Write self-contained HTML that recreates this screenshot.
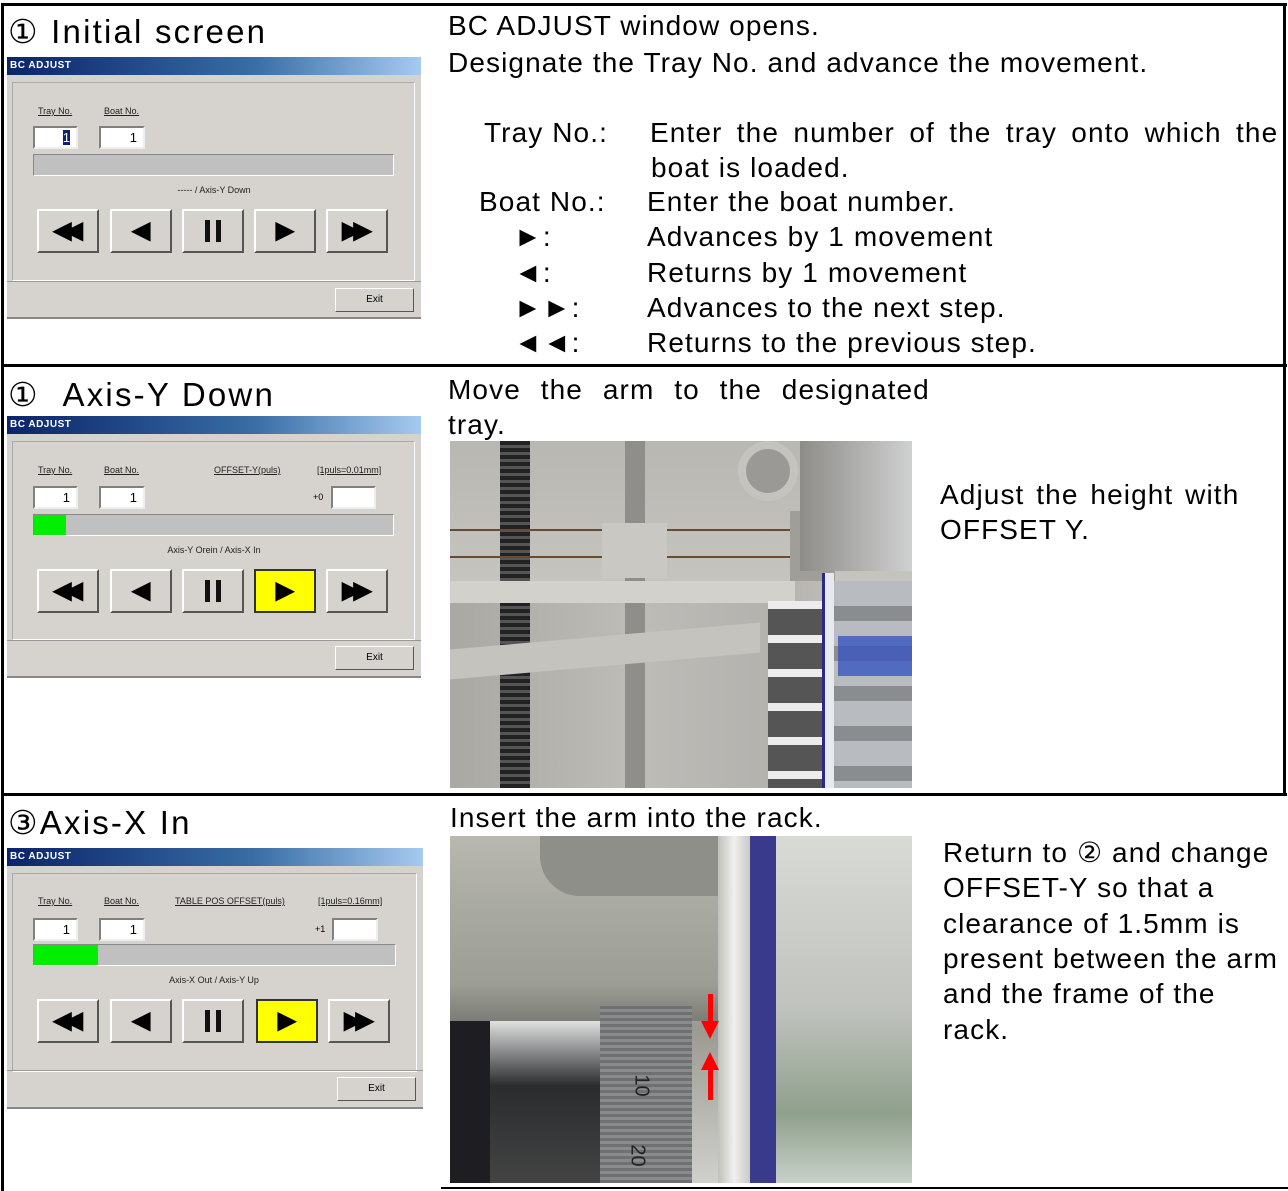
<!DOCTYPE html>
<html><head><meta charset="utf-8"><style>
*{margin:0;padding:0;box-sizing:border-box}
body{width:1288px;height:1191px;background:#fff;position:relative;overflow:hidden;font-family:"Liberation Sans",Arial,sans-serif;color:#000}
.a{position:absolute}
.t{position:absolute;font-size:28px;letter-spacing:1.1px;white-space:nowrap;line-height:1}
.h{position:absolute;font-size:33px;letter-spacing:2.2px;white-space:nowrap;line-height:1}
.win{position:absolute;background:#d6d3ce;width:414px;height:262px;border-bottom:2px solid #888}
.tb{position:absolute;left:0;top:0;right:0;height:18px;background:linear-gradient(90deg,#0a246a,#3a6ea5 60%,#a6caf0);color:#fff;font-size:10px;font-weight:bold;padding:3px 0 0 3px;letter-spacing:.5px}
.pn{position:absolute;left:5px;top:25px;width:403px;height:199px;border:1px solid #fff;border-top-color:#aaa;border-left-color:#aaa}
.lb{position:absolute;font-size:9px;text-decoration:underline;color:#222}
.bx{position:absolute;height:23px;background:#fff;border:2px solid #808080;border-right-color:#eee;border-bottom-color:#eee;font-size:13px;text-align:right;padding-right:6px;line-height:19px}
.pb{position:absolute;left:26px;width:361px;height:22px;background:#c0c0c0;border:1px solid #888;border-right-color:#fff;border-bottom-color:#fff}
.st{position:absolute;left:0;width:414px;text-align:center;font-size:9px;color:#222}
.bt{position:absolute;width:62px;height:44px;background:#d6d3ce;border:2px solid #fff;border-right-color:#555;border-bottom-color:#555;font-size:24px;text-align:center;line-height:40px;font-weight:bold;letter-spacing:-7px;padding-right:7px}
.bt.s{letter-spacing:0;padding:0}
.ex{position:absolute;left:328px;width:79px;height:24px;background:#d6d3ce;border:1px solid #fff;border-right-color:#555;border-bottom-color:#555;font-size:10px;text-align:center;line-height:22px}
.pz{display:inline-block;width:5px;height:22px;background:#111;margin:9px 3px 0}
</style></head><body>
<div class="a" style="left:1px;top:3px;width:1286px;height:3px;background:#000"></div>
<div class="a" style="left:1px;top:3px;width:3px;height:1188px;background:#000"></div>
<div class="a" style="left:1283px;top:3px;width:3px;height:792px;background:#000"></div>
<div class="a" style="left:1px;top:364px;width:1286px;height:3px;background:#000"></div>
<div class="a" style="left:1px;top:793px;width:1286px;height:3px;background:#000"></div>
<div class="a" style="left:441px;top:1187px;width:847px;height:2px;background:#000"></div>

<div class="h" style="left:8px;top:15px">① Initial screen</div>
<div class="win" style="left:7px;top:57px">
 <div class="tb">BC ADJUST</div><div class="pn"></div>
 <div class="lb" style="left:31px;top:49px">Tray No.</div><div class="lb" style="left:97px;top:49px">Boat No.</div>
 <div class="bx" style="left:26px;top:69px;width:45px"><span style="background:#0a246a;color:#fff">1</span></div>
 <div class="bx" style="left:92px;top:69px;width:46px">1</div>
 <div class="pb" style="top:97px"></div>
 <div class="st" style="top:128px">----- / Axis-Y Down</div>
 <div class="bt" style="left:30px;top:152px">◀◀</div><div class="bt s" style="left:103px;top:152px">◀</div>
 <div class="bt s" style="left:175px;top:152px"><span class="pz"></span><span class="pz"></span></div><div class="bt s" style="left:247px;top:152px">▶</div>
 <div class="bt" style="left:319px;top:152px">▶▶</div>
 <div class="a" style="left:0;top:224px;width:414px;height:1px;background:#999"></div>
 <div class="ex" style="top:231px">Exit</div>
</div>
<div class="t" style="left:448px;top:12px">BC ADJUST window opens.</div>
<div class="t" style="left:448px;top:49px">Designate the Tray No. and advance the movement.</div>
<div class="t" style="left:484px;top:119px">Tray No.:</div>
<div class="t" style="left:650px;top:119px;word-spacing:5.5px">Enter the number of the tray onto which the</div>
<div class="t" style="left:651px;top:154px">boat is loaded.</div>
<div class="t" style="left:479px;top:188px">Boat No.:</div>
<div class="t" style="left:647px;top:188px">Enter the boat number.</div>
<div class="t" style="left:514px;top:223px">►:</div><div class="t" style="left:647px;top:223px">Advances by 1 movement</div>
<div class="t" style="left:514px;top:259px">◄:</div><div class="t" style="left:647px;top:259px">Returns by 1 movement</div>
<div class="t" style="left:514px;top:294px">►►:</div><div class="t" style="left:647px;top:294px">Advances to the next step.</div>
<div class="t" style="left:514px;top:329px">◄◄:</div><div class="t" style="left:647px;top:329px">Returns to the previous step.</div>

<div class="h" style="left:8px;top:378px">①&nbsp;&nbsp;Axis-Y Down</div>
<div class="win" style="left:7px;top:416px">
 <div class="tb">BC ADJUST</div><div class="pn"></div>
 <div class="lb" style="left:31px;top:49px">Tray No.</div><div class="lb" style="left:97px;top:49px">Boat No.</div>
 <div class="lb" style="left:207px;top:49px">OFFSET-Y(puls)</div><div class="lb" style="left:310px;top:49px">[1puls=0.01mm]</div>
 <div class="bx" style="left:26px;top:70px;width:45px">1</div>
 <div class="bx" style="left:92px;top:70px;width:46px">1</div>
 <div class="a" style="left:306px;top:76px;font-size:9px">+0</div>
 <div class="bx" style="left:324px;top:70px;width:45px"></div>
 <div class="pb" style="top:98px"><div style="width:32px;height:20px;background:#00ee00"></div></div>
 <div class="st" style="top:129px">Axis-Y Orein / Axis-X In</div>
 <div class="bt" style="left:30px;top:153px">◀◀</div><div class="bt s" style="left:103px;top:153px">◀</div>
 <div class="bt s" style="left:175px;top:153px"><span class="pz"></span><span class="pz"></span></div><div class="bt s" style="left:247px;top:153px;background:#ffff00;border:2px solid #333">▶</div>
 <div class="bt" style="left:319px;top:153px">▶▶</div>
 <div class="a" style="left:0;top:224px;width:414px;height:1px;background:#999"></div>
 <div class="ex" style="top:230px">Exit</div>
</div>
<div class="t" style="left:448px;top:376px;word-spacing:11px">Move the arm to the designated</div>
<div class="t" style="left:448px;top:411px">tray.</div>
<div class="a" style="left:450px;top:441px;width:462px;height:347px;overflow:hidden;background:linear-gradient(90deg,#a9a8a3,#bdbcb7 40%,#b3b2ad 70%,#c8c8c4)">
 <div class="a" style="left:0;top:0;width:462px;height:140px;background:linear-gradient(180deg,#b8b7b2,#c5c4bf)"></div>
 <div class="a" style="left:50px;top:0;width:30px;height:347px;background:repeating-linear-gradient(180deg,#222 0 4px,#555 4px 7px)"></div>
 <div class="a" style="left:175px;top:0;width:20px;height:347px;background:#8f8e8a"></div>
 <div class="a" style="left:288px;top:0;width:60px;height:60px;border-radius:50%;background:#9a9995;border:8px solid #c4c3be"></div>
 <div class="a" style="left:0;top:88px;width:370px;height:2px;background:#6a4a30"></div>
 <div class="a" style="left:0;top:115px;width:370px;height:2px;background:#6a4a30"></div>
 <div class="a" style="left:152px;top:82px;width:65px;height:55px;background:#c9c8c3"></div>
 <div class="a" style="left:340px;top:70px;width:45px;height:70px;background:#9f9e99"></div>
 <div class="a" style="left:0;top:140px;width:345px;height:22px;background:#d2d1cc"></div>
 <div class="a" style="left:0;top:195px;width:310px;height:30px;background:#c4c3be;transform:skewY(-5deg)"></div>
 <div class="a" style="left:350px;top:0;width:112px;height:130px;background:linear-gradient(90deg,#8d8c88,#cfd0d0)"></div>
 <div class="a" style="left:318px;top:160px;width:62px;height:187px;background:repeating-linear-gradient(180deg,#ececec 0 8px,#555 8px 34px)"></div>
 <div class="a" style="left:372px;top:132px;width:12px;height:215px;background:#e8e8ef;border-left:3px solid #2a2a80"></div>
 <div class="a" style="left:384px;top:140px;width:78px;height:207px;background:repeating-linear-gradient(180deg,#b8bcc0 0 25px,#8a8d90 25px 40px)"></div>
 <div class="a" style="left:388px;top:195px;width:74px;height:40px;background:#3a55c0;opacity:.8"></div>
</div>
<div class="t" style="left:940px;top:481px;word-spacing:3px">Adjust the height with</div>
<div class="t" style="left:940px;top:516px">OFFSET Y.</div>

<div class="h" style="left:8px;top:806px">③Axis-X In</div>
<div class="win" style="left:7px;top:848px;width:416px;height:261px">
 <div class="tb">BC ADJUST</div><div class="pn" style="width:405px"></div>
 <div class="lb" style="left:31px;top:48px">Tray No.</div><div class="lb" style="left:97px;top:48px">Boat No.</div>
 <div class="lb" style="left:168px;top:48px">TABLE POS OFFSET(puls)</div><div class="lb" style="left:311px;top:48px">[1puls=0.16mm]</div>
 <div class="bx" style="left:26px;top:70px;width:45px">1</div>
 <div class="bx" style="left:92px;top:70px;width:46px">1</div>
 <div class="a" style="left:308px;top:76px;font-size:9px">+1</div>
 <div class="bx" style="left:325px;top:70px;width:46px"></div>
 <div class="pb" style="top:96px;width:363px"><div style="width:64px;height:20px;background:#00ee00"></div></div>
 <div class="st" style="top:127px">Axis-X Out / Axis-Y Up</div>
 <div class="bt" style="left:30px;top:151px">◀◀</div><div class="bt s" style="left:103px;top:151px">◀</div>
 <div class="bt s" style="left:175px;top:151px"><span class="pz"></span><span class="pz"></span></div><div class="bt s" style="left:249px;top:151px;background:#ffff00;border:2px solid #333">▶</div>
 <div class="bt" style="left:321px;top:151px">▶▶</div>
 <div class="a" style="left:0;top:222px;width:416px;height:1px;background:#999"></div>
 <div class="ex" style="left:330px;top:229px">Exit</div>
</div>
<div class="t" style="left:450px;top:804px">Insert the arm into the rack.</div>
<div class="a" style="left:450px;top:836px;width:462px;height:347px;overflow:hidden;background:linear-gradient(180deg,#b4b4ac,#c4c4bc 40%,#9a9a92 55%,#d0d0cc)">
 <div class="a" style="left:0;top:0;width:270px;height:185px;background:linear-gradient(180deg,#b8b8b0,#a8a9a0 40%,#9c9d95 80%,#7c7d76)"></div>
 <div class="a" style="left:90px;top:0;width:180px;height:60px;border-radius:0 0 0 40px;background:#8e8f88"></div>
 <div class="a" style="left:0;top:185px;width:40px;height:162px;background:#1e1e22"></div>
 <div class="a" style="left:40px;top:185px;width:110px;height:162px;background:linear-gradient(180deg,#e0e0e0,#2a2c2e 40%,#444)"></div>
 <div class="a" style="left:150px;top:170px;width:92px;height:177px;background:repeating-linear-gradient(180deg,#6f7072 0 3px,#8a8b8d 3px 6px)"></div>
 <div class="a" style="left:180px;top:238px;font-size:20px;color:#222;transform:rotate(90deg)">10</div>
 <div class="a" style="left:176px;top:308px;font-size:20px;color:#222;transform:rotate(90deg)">20</div>
 <div class="a" style="left:268px;top:0;width:32px;height:347px;background:linear-gradient(90deg,#bfc0bc,#f0f0ee,#c8c8c4)"></div>
 <div class="a" style="left:300px;top:0;width:26px;height:347px;background:#3a3a8c"></div>
 <div class="a" style="left:326px;top:0;width:136px;height:347px;background:linear-gradient(180deg,#d8dad6,#c0c2be 50%,#8fa08c 80%,#c8d0c8)"></div>
 <div class="a" style="left:258px;top:158px;width:5px;height:30px;background:#f00"></div>
 <div class="a" style="left:251px;top:185px;width:0;height:0;border-left:9px solid transparent;border-right:9px solid transparent;border-top:18px solid #f00"></div>
 <div class="a" style="left:251px;top:216px;width:0;height:0;border-left:9px solid transparent;border-right:9px solid transparent;border-bottom:18px solid #f00"></div>
 <div class="a" style="left:258px;top:232px;width:5px;height:32px;background:#f00"></div>
</div>
<div class="t" style="left:943px;top:839px">Return to ② and change</div>
<div class="t" style="left:943px;top:874px">OFFSET-Y so that a</div>
<div class="t" style="left:943px;top:910px">clearance of 1.5mm is</div>
<div class="t" style="left:943px;top:945px">present between the arm</div>
<div class="t" style="left:943px;top:980px">and the frame of the</div>
<div class="t" style="left:943px;top:1016px">rack.</div>
</body></html>
